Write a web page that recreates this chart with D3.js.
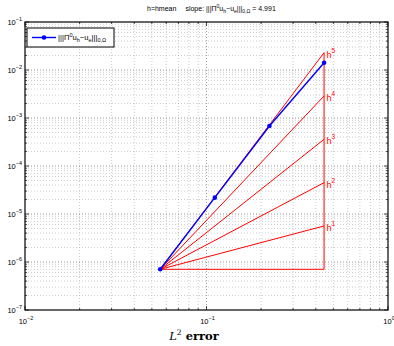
<!DOCTYPE html>
<html>
<head>
<meta charset="utf-8">
<script src="https://cdn.jsdelivr.net/npm/d3@7"></script>
<style>
  html, body { margin: 0; padding: 0; background: #fff; }
  svg { display: block; font-family: "Liberation Sans", Arial, sans-serif; }
</style>
</head>
<body>
<svg id="chart" width="394" height="346"></svg>
<script>
// Mesh sizes and measured errors
const meshSizes = [0.0556, 0.1111, 0.2222, 0.4444];
const errors = [7.05e-7, 2.19e-5, 6.81e-4, 1.42e-2];
// Reference slope orders for the triangle
const slopeOrders = [1, 2, 3, 4, 5];
// Axis decades (exponents)
const xTickExps = [-2, -1, 0];
const yTickExps = [-7, -6, -5, -4, -3, -2, -1];
const fittedSlope = "4.991";

const svg = d3.select("#chart");
const L = 25, R = 388, T = 22, B = 310;

const x = d3.scaleLog().domain([1e-2, 1]).range([L, R]);
const y = d3.scaleLog().domain([1e-7, 1e-1]).range([B, T]);

// minor + major values
function logValues(lo, hi) {
  const out = [];
  for (let e = lo; e < hi; e++) for (let m = 1; m < 10; m++) out.push(m * Math.pow(10, e));
  out.push(Math.pow(10, hi));
  return out;
}
const xAll = logValues(-2, 0);
const yAll = logValues(-7, -1);
const isMajor = v => Math.abs(Math.log10(v) - Math.round(Math.log10(v))) < 1e-9;

// grid
const grid = svg.append("g");
grid.selectAll("line.gx").data(xAll.filter(v => v > 1e-2 && v < 1)).join("line")
  .attr("x1", d => x(d)).attr("x2", d => x(d)).attr("y1", T).attr("y2", B)
  .attr("stroke", d => isMajor(d) ? "#555" : "#aaa").attr("stroke-width", 0.6)
  .attr("stroke-dasharray", "1,2");
grid.selectAll("line.gy").data(yAll.filter(v => v > 1e-7 && v < 1e-1)).join("line")
  .attr("y1", d => y(d)).attr("y2", d => y(d)).attr("x1", L).attr("x2", R)
  .attr("stroke", d => isMajor(d) ? "#555" : "#aaa").attr("stroke-width", 0.6)
  .attr("stroke-dasharray", "1,2");

// axes with inward ticks on all sides
function tickLen(v) { return isMajor(v) ? 4 : 2; }
const ax = svg.append("g").attr("stroke", "#000").attr("stroke-width", 0.7);
xAll.forEach(v => {
  ax.append("line").attr("x1", x(v)).attr("x2", x(v)).attr("y1", B).attr("y2", B - tickLen(v));
  ax.append("line").attr("x1", x(v)).attr("x2", x(v)).attr("y1", T).attr("y2", T + tickLen(v));
});
yAll.forEach(v => {
  ax.append("line").attr("y1", y(v)).attr("y2", y(v)).attr("x1", L).attr("x2", L + tickLen(v));
  ax.append("line").attr("y1", y(v)).attr("y2", y(v)).attr("x1", R).attr("x2", R - tickLen(v));
});
svg.append("rect").attr("x", L).attr("y", T).attr("width", R - L).attr("height", B - T)
  .attr("fill", "none").attr("stroke", "#000").attr("stroke-width", 1.2);

// tick labels
function powLabel(g, px, py, exp, anchor) {
  const t = g.append("text").attr("x", px).attr("y", py).attr("font-size", 7.5)
    .attr("text-anchor", anchor).attr("fill", "#000");
  t.append("tspan").text("10");
  t.append("tspan").attr("dy", -4).attr("font-size", 5.5).text(exp < 0 ? "\u2212" + (-exp) : exp);
}
const labels = svg.append("g");
xTickExps.forEach(e => powLabel(labels, x(Math.pow(10, e)) + 1, B + 14, e, "middle"));
yTickExps.forEach(e => powLabel(labels, L - 3, y(Math.pow(10, e)) + 3, e, "end"));

// reference triangle
const h0 = meshSizes[0], e0 = errors[0], h1 = meshSizes[meshSizes.length - 1];
const red = "#ff0000";
const tri = svg.append("g").attr("stroke", red).attr("stroke-width", 1).attr("fill", "none");
const line = d3.line().x(d => x(d[0])).y(d => y(d[1]));
tri.append("path").attr("d", line([[h0, e0], [h1, e0], [h1, e0 * Math.pow(h1 / h0, 5)]]));
slopeOrders.forEach(k => {
  tri.append("path").attr("d", line([[h0, e0], [h1, e0 * Math.pow(h1 / h0, k)]]));
  const t = svg.append("text").attr("x", x(h1) + 2.5).attr("y", y(e0 * Math.pow(h1 / h0, k)) + 5)
    .attr("font-size", 9).attr("fill", red);
  t.append("tspan").text("h");
  t.append("tspan").attr("dy", -5).attr("font-size", 6.5).text(k);
});

// data series
const pts = meshSizes.map((h, i) => [h, errors[i]]);
svg.append("path").attr("d", line(pts)).attr("stroke", "#0000ff").attr("stroke-width", 1.4).attr("fill", "none");
svg.selectAll("circle.pt").data(pts).join("circle")
  .attr("cx", d => x(d[0])).attr("cy", d => y(d[1])).attr("r", 2.3).attr("fill", "#0000ff");

// norm label pieces
function normText(t, fs) {
  t.append("tspan").text("|||\u03a0");
  t.append("tspan").attr("dy", -3.5).attr("font-size", fs * 0.72).text("0");
  t.append("tspan").attr("dy", 3.5).text("u");
  t.append("tspan").attr("dy", 2).attr("font-size", fs * 0.72).text("h");
  t.append("tspan").attr("dy", -2).text("\u2212u");
  t.append("tspan").attr("dy", 2).attr("font-size", fs * 0.72).text("e");
  t.append("tspan").attr("dy", -2).text("|||");
  t.append("tspan").attr("dy", 2).attr("font-size", fs * 0.72).text("0,\u03a9");
}

// legend
const lg = svg.append("g");
lg.append("rect").attr("x", 27).attr("y", 28).attr("width", 87).attr("height", 19)
  .attr("fill", "#fff").attr("stroke", "#000").attr("stroke-width", 1);
lg.append("line").attr("x1", 32).attr("x2", 56).attr("y1", 37.5).attr("y2", 37.5)
  .attr("stroke", "#0000ff").attr("stroke-width", 1.4);
lg.append("circle").attr("cx", 44).attr("cy", 37.5).attr("r", 2.3).attr("fill", "#0000ff");
normText(lg.append("text").attr("x", 58).attr("y", 40).attr("font-size", 7.6)
  .attr("textLength", null), 7.6);

// title
const title = svg.append("text").attr("x", 147).attr("y", 11).attr("font-size", 7);
title.append("tspan").text("h=hmean");
title.append("tspan").attr("dx", 9).text("slope: ");
normText(title, 7);
title.append("tspan").attr("dy", -2).text(" = " + fittedSlope);

// x label
const xl = svg.append("text").attr("x", 194).attr("y", 340).attr("text-anchor", "middle")
  .attr("font-family", "'DejaVu Serif', 'Liberation Serif', serif").attr("font-size", 11.5);
xl.append("tspan").attr("font-style", "italic").text("L");
xl.append("tspan").attr("dy", -5).attr("font-size", 7.5).text("2");
xl.append("tspan").attr("dy", 5).attr("dx", 4).attr("font-weight", "bold").text("error");
</script>
</body>
</html>
